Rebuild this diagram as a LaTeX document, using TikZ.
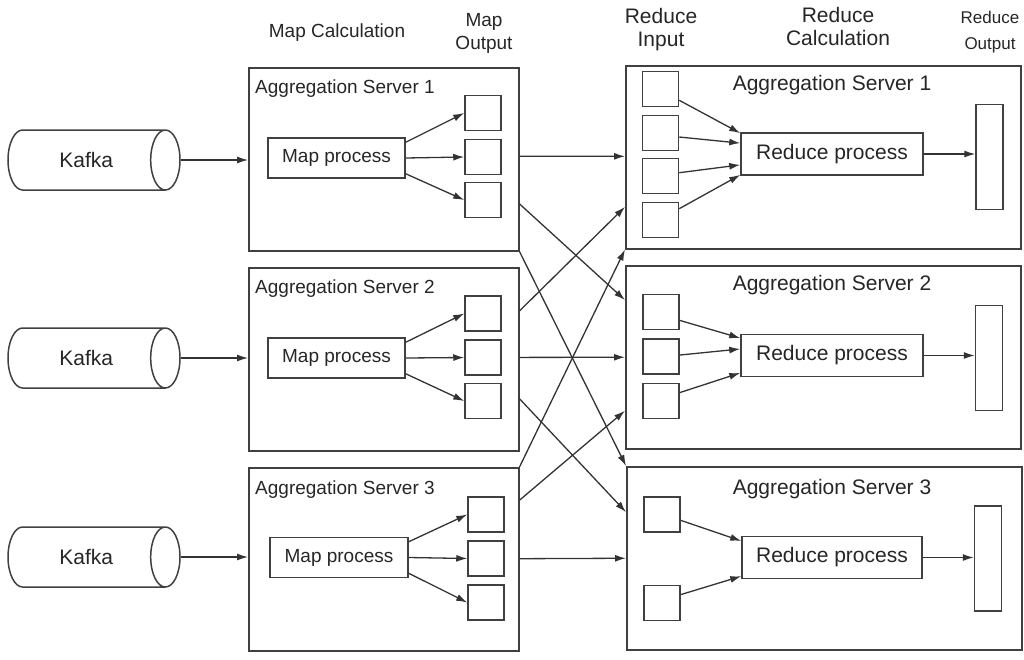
\documentclass[tikz,border=0pt]{standalone}
\usepackage{fontspec}
\setmainfont{Liberation Sans}
\usetikzlibrary{shapes.geometric,arrows.meta,calc}
\newcommand\myfontA{\fontsize{19}{23}\selectfont}
\newcommand\myfontB{\fontsize{21}{23}\selectfont}
\newcommand\myfontC{\fontsize{17}{26}\selectfont}
\begin{document}
\begin{tikzpicture}[x=1pt,y=-1pt,
  box/.style={draw=black!75, line width=1.5pt, rectangle, inner sep=0pt, text=black!85},
  lsrv/.style={box, minimum width=270pt, minimum height=183pt, anchor=north west},
  rsrv/.style={box, minimum width=395pt, minimum height=183pt, anchor=north west},
  cell/.style={box, minimum width=36pt, minimum height=35pt},
  mapbox/.style={box, minimum width=137pt, minimum height=40pt, font=\myfontA},
  redbox/.style={box, minimum width=182pt, minimum height=42pt, font=\myfontB},
  outbox/.style={box, minimum width=27pt, minimum height=105pt},
  kafka/.style={draw=black!75, line width=1.5pt, cylinder, shape aspect=1.9, minimum height=172pt, minimum width=60pt, inner sep=0pt, font=\myfontB, text=black!85, anchor=shape center},
  lbl/.style={inner sep=0pt, text=black!85},
  hdr/.style={inner sep=0pt, align=center, text=black!85},
  arr/.style={draw=black!80, line width=1.3pt, -{Latex[length=11pt,width=7pt]}}
]
\useasboundingbox (0,0) rectangle (1024,659);

% headers
\node[hdr, font=\myfontA] (h1) at (337,33) {Map Calculation};
\node[hdr, font=\myfontA] (h2) at (484,33) {Map\\Output};
\node[hdr, font=\myfontB] (h3) at (661,30) {Reduce\\Input};
\node[hdr, font=\myfontB] (h4) at (838,26) {Reduce\\Calculation};
\node[hdr, font=\myfontC] (h5) at (990,32) {Reduce\\Output};

% Kafka
\node[kafka] (K1) at (94,160) {Kafka};
\node[kafka] (K2) at (94,358) {Kafka};
\node[kafka] (K3) at (94,557) {Kafka};

% left servers
\node[lsrv] (L1) at (248,67) {};
\node[lsrv] (L2) at (248,267) {};
\node[lsrv] (L3) at (248,467) {};
\node[lbl, font=\myfontA, anchor=west] (LT1) at (255,89) {Aggregation Server 1};
\node[lbl, font=\myfontA, anchor=west] (LT2) at (255,289) {Aggregation Server 2};
\node[lbl, font=\myfontA, anchor=west] (LT3) at (255,490) {Aggregation Server 3};

\node[mapbox] (M1) at (336.5,158) {Map process};
\node[mapbox] (M2) at (336.5,358) {Map process};
\node[mapbox, minimum width=138pt] (M3) at (339,557.5) {Map process};

\node[cell] (O11) at (483,113) {};
\node[cell] (O12) at (483,157) {};
\node[cell] (O13) at (483,200) {};
\node[cell] (O21) at (483,313.5) {};
\node[cell] (O22) at (483,357.5) {};
\node[cell] (O23) at (483,401) {};
\node[cell] (O31) at (486,514.5) {};
\node[cell] (O32) at (486,558.5) {};
\node[cell] (O33) at (486,602.5) {};

% right servers
\node[rsrv] (R1) at (625,65) {};
\node[rsrv] (R2) at (625,265) {};
\node[rsrv] (R3) at (626,466) {};
\node[lbl, font=\myfontB] (RT1) at (832,85) {Aggregation Server 1};
\node[lbl, font=\myfontB] (RT2) at (832,285) {Aggregation Server 2};
\node[lbl, font=\myfontB] (RT3) at (832,489) {Aggregation Server 3};

\node[cell] (I11) at (660.5,89) {};
\node[cell] (I12) at (660.5,133) {};
\node[cell] (I13) at (660.5,176) {};
\node[cell] (I14) at (660.5,220) {};
\node[cell] (I21) at (661,312) {};
\node[cell] (I22) at (661,356.5) {};
\node[cell] (I23) at (661,401) {};
\node[cell] (I31) at (662,514.5) {};
\node[cell] (I32) at (662,603) {};

\node[redbox] (P1) at (832,154) {Reduce process};
\node[redbox] (P2) at (832,355.5) {Reduce process};
\node[redbox, minimum width=180pt] (P3) at (832,557.5) {Reduce process};

\node[outbox] (Q1) at (989.5,157) {};
\node[outbox] (Q2) at (989,358) {};
\node[outbox] (Q3) at (988,558.5) {};

% Kafka -> servers
\draw[arr] (K1.east) -- (K1.east -| L1.west);
\draw[arr] (K2.east) -- (K2.east -| L2.west);
\draw[arr] (K3.east) -- (K3.east -| L3.west);

% map -> outputs
\foreach \m/\a/\b/\c in {M1/O11/O12/O13, M2/O21/O22/O23, M3/O31/O32/O33}{
  \draw[arr] ($(\m.north east)!0.12!(\m.south east)$) -- (\a.west);
  \draw[arr] (\m.east) -- (\b.west);
  \draw[arr] ($(\m.north east)!0.88!(\m.south east)$) -- (\c.west);
}

% shuffle
\draw[arr] ($(L1.north east)!0.484!(L1.south east)$) -- ($(R1.north west)!0.495!(R1.south west)$);
\draw[arr] ($(L1.north east)!0.742!(L1.south east)$) -- ($(R2.north west)!0.19!(R2.south west)$);
\draw[arr] (L1.south east) -- (R3.north west);
\draw[arr] ($(L2.north east)!0.238!(L2.south east)$) -- ($(R1.north west)!0.769!(R1.south west)$);
\draw[arr] ($(L2.north east)!0.49!(L2.south east)$) -- ($(R2.north west)!0.5!(R2.south west)$);
\draw[arr] ($(L2.north east)!0.714!(L2.south east)$) -- ($(R3.north west)!0.25!(R3.south west)$);
\draw[arr] (L3.north east) -- (R1.south west);
\draw[arr] ($(L3.north east)!0.18!(L3.south east)$) -- ($(R2.north west)!0.79!(R2.south west)$);
\draw[arr] ($(L3.north east)!0.497!(L3.south east)$) -- ($(R3.north west)!0.5!(R3.south west)$);

% inputs -> reduce
\draw[arr] ($(I11.north east)!0.81!(I11.south east)$) -- ($(P1.north west)!0.02!(P1.south west)$);
\draw[arr] ($(I12.north east)!0.61!(I12.south east)$) -- ($(P1.north west)!0.25!(P1.south west)$);
\draw[arr] ($(I13.north east)!0.41!(I13.south east)$) -- ($(P1.north west)!0.75!(P1.south west)$);
\draw[arr] ($(I14.north east)!0.19!(I14.south east)$) -- ($(P1.north west)!0.98!(P1.south west)$);
\draw[arr] ($(I21.north east)!0.73!(I21.south east)$) -- ($(P2.north west)!0.1!(P2.south west)$);
\draw[arr] ($(I22.north east)!0.46!(I22.south east)$) -- ($(P2.north west)!0.35!(P2.south west)$);
\draw[arr] ($(I23.north east)!0.27!(I23.south east)$) -- ($(P2.north west)!0.9!(P2.south west)$);
\draw[arr] ($(I31.north east)!0.66!(I31.south east)$) -- ($(P3.north west)!0.12!(P3.south west)$);
\draw[arr] ($(I32.north east)!0.27!(I32.south east)$) -- ($(P3.north west)!0.93!(P3.south west)$);

% reduce -> outputs
\draw[arr] (P1.east) -- (P1.east -| Q1.west);
\draw[arr] (P2.east) -- (P2.east -| Q2.west);
\draw[arr] (P3.east) -- (P3.east -| Q3.west);
\end{tikzpicture}
\end{document}
